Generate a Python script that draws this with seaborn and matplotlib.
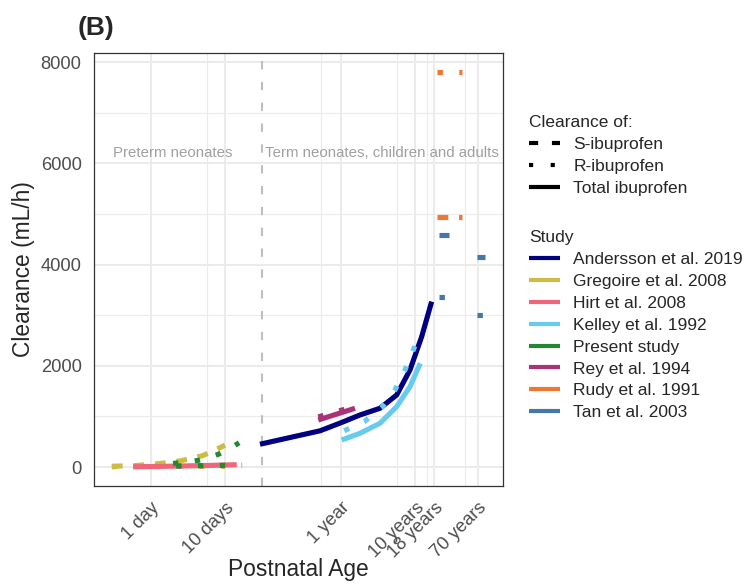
import numpy as np
import pandas as pd
import matplotlib
matplotlib.use('Agg')
import matplotlib.pyplot as plt
import seaborn as sns
from matplotlib.lines import Line2D

# postnatal age in days, clearance in mL/h
andersson_age = [29.6, 190, 372, 656, 1219, 2046, 3090, 4440, 6050]
andersson_total = [450, 715, 880, 1028, 1160, 1423, 1917, 2575, 3267]

gregoire_s_age = [0.3, 0.65, 1.25, 2.5, 5, 7, 10]
gregoire_s = [15, 30, 65, 120, 225, 320, 430]
gregoire_r_age = [0.3, 1, 3, 10]
gregoire_r = [5, 8, 10, 12]

hirt_age = [0.58, 1.6, 5, 14.4]
hirt_total = [5, 14, 28, 45]

kelley_age = [372, 656, 1219, 2046, 3090, 4250]
kelley_total = [534, 666, 864, 1192, 1587, 2049]
kelley_r_age = [403, 750, 1285, 1941, 2648, 3420, 4300]
kelley_r = [717, 895, 1172, 1522, 1917, 2312, 2674]

present_age = [2.0, 3, 4.3, 6, 8.1, 11, 15.5]
present_r = [70, 100, 130, 180, 250, 340, 480]
present_age2 = [2.2, 6, 17]
present_r2 = [20, 28, 40]

rey_age = [180, 562]
rey_total = [929, 1160]
rey_r = [990, 1200]

rudy_age = [7130, 15490]
rudy_s = [4940, 4940]
rudy_r = [7800, 7800]

tan_age_young = [7590, 10500]
tan_age_old = [24650, 31560]
tan_s_young = [4585, 4585]
tan_r_young = [3366, 3366]
tan_s_old = [4156, 4156]
tan_r_old = [3004, 3004]

studies = ["Andersson et al. 2019", "Gregoire et al. 2008", "Hirt et al. 2008",
           "Kelley et al. 1992", "Present study", "Rey et al. 1994",
           "Rudy et al. 1991", "Tan et al. 2003"]
colors = ["navy", "#CCBB44", "#EE6677", "#66CCEE", "#228833", "#AA3377",
          "#EE7733", "#4477AA"]
measures = ["S-ibuprofen", "R-ibuprofen", "Total ibuprofen"]

tick_days = [1, 10, 365.25, 3652.5, 6574.5, 25567.5]
tick_labels = ["1 day", "10 days", "1 year", "10 years", "18 years", "70 years"]
minor_days = [5.67, 194, 2084, 5284, 16980]

curves = [
    ("Andersson et al. 2019", "Total ibuprofen", andersson_age, andersson_total),
    ("Gregoire et al. 2008", "S-ibuprofen", gregoire_s_age, gregoire_s),
    ("Gregoire et al. 2008", "R-ibuprofen", gregoire_r_age, gregoire_r),
    ("Hirt et al. 2008", "Total ibuprofen", hirt_age, hirt_total),
    ("Kelley et al. 1992", "Total ibuprofen", kelley_age, kelley_total),
    ("Kelley et al. 1992", "R-ibuprofen", kelley_r_age, kelley_r),
    ("Present study", "R-ibuprofen", present_age, present_r),
    ("Present study", "R-ibuprofen", present_age2, present_r2),
    ("Rey et al. 1994", "Total ibuprofen", rey_age, rey_total),
    ("Rey et al. 1994", "R-ibuprofen", rey_age, rey_r),
    ("Rudy et al. 1991", "S-ibuprofen", rudy_age, rudy_s),
    ("Rudy et al. 1991", "R-ibuprofen", rudy_age, rudy_r),
    ("Tan et al. 2003", "S-ibuprofen", tan_age_young, tan_s_young),
    ("Tan et al. 2003", "R-ibuprofen", tan_age_young, tan_r_young),
    ("Tan et al. 2003", "S-ibuprofen", tan_age_old, tan_s_old),
    ("Tan et al. 2003", "R-ibuprofen", tan_age_old, tan_r_old),
]

rows = []
for i, (study, measure, ages, vals) in enumerate(curves):
    for a, v in zip(ages, vals):
        rows.append({"age": a, "clearance": v, "study": study,
                     "measure": measure, "curve": i})
df = pd.DataFrame(rows)

sns.set_style("white")
plt.rcParams['font.family'] = ['Liberation Sans', 'DejaVu Sans']
plt.rcParams['lines.solid_capstyle'] = 'butt'
plt.rcParams['lines.dash_capstyle'] = 'butt'

fig = plt.figure(figsize=(7.45, 5.84), dpi=100)
ax = fig.add_axes([94/745, 1-486/584, (503-94)/745, (486-53)/584])

lw = 3.7
dash_map = {"S-ibuprofen": (2.1, 2.1), "R-ibuprofen": (1.05, 3.2), "Total ibuprofen": ""}
palette = dict(zip(studies, colors))

sns.lineplot(data=df, x="age", y="clearance", hue="study", style="measure",
             units="curve", estimator=None, sort=False, hue_order=studies,
             style_order=measures, palette=palette, dashes=dash_map,
             linewidth=lw, legend=False, ax=ax)

ax.axvline(31.2, color='#BEBEBE', lw=1.5, linestyle=(0, (4, 6)), zorder=1.5)

ax.text(2.0, 6200, "Preterm neonates", color='#A0A0A0', fontsize=10.8,
        ha='center', va='center')
ax.text(1277, 6200, "Term neonates, children and adults", color='#A0A0A0',
        fontsize=10.8, ha='center', va='center')

ax.set_xscale('log')
ax.set_xlim(0.1726, 55200)
ax.set_ylim(-375, 8178)
ax.set_xticks(tick_days)
ax.set_xticklabels(tick_labels, rotation=45, ha='right', va='top',
                   rotation_mode='anchor')
ax.set_xticks(minor_days, minor=True)
ax.set_yticks([0, 2000, 4000, 6000, 8000])
ax.set_yticks([1000, 3000, 5000, 7000], minor=True)
ax.tick_params(which='major', length=4.5, width=1.0, color='#333333',
               labelsize=13.2, labelcolor='#4D4D4D', pad=4.5)
ax.tick_params(axis='x', which='major', pad=5)
ax.tick_params(which='minor', length=0)
ax.tick_params(axis='x', which='minor', labelbottom=False)
ax.grid(which='major', color='#EBEBEB', lw=1.4)
ax.grid(which='minor', color='#EBEBEB', lw=0.8)
ax.set_axisbelow(True)
for sp in ax.spines.values():
    sp.set_color('#333333')
    sp.set_linewidth(0.9)

ax.set_xlabel("Postnatal Age", fontsize=16.4, labelpad=-2)
ax.set_ylabel("Clearance (mL/h)", fontsize=16.4, labelpad=4)

fig.text(78/745, 1-16/584, "(B)", fontsize=19, fontweight='bold',
         ha='left', va='top')

leg_kw = dict(frameon=False, fontsize=12.5, title_fontsize=12.5,
              alignment='left', handlelength=1.8, handletextpad=0.75,
              labelspacing=0.39, borderpad=0, borderaxespad=0,
              loc='upper left', bbox_transform=fig.transFigure)

style_handles = [
    Line2D([], [], color='black', lw=3.0, linestyle=(0, (2.2, 3.3))),
    Line2D([], [], color='black', lw=3.0, linestyle=(0, (1.0, 4.2))),
    Line2D([], [], color='black', lw=3.0),
]
leg1 = ax.legend(handles=style_handles, labels=measures, title="Clearance of:",
                 bbox_to_anchor=(529/745, 1-115/584), **leg_kw)
ax.add_artist(leg1)

study_handles = [Line2D([], [], color=c, lw=3.0) for c in colors]
ax.legend(handles=study_handles, labels=studies, title="Study",
          bbox_to_anchor=(529/745, 1-230/584), **leg_kw)

fig.savefig("out.png", dpi=100)
